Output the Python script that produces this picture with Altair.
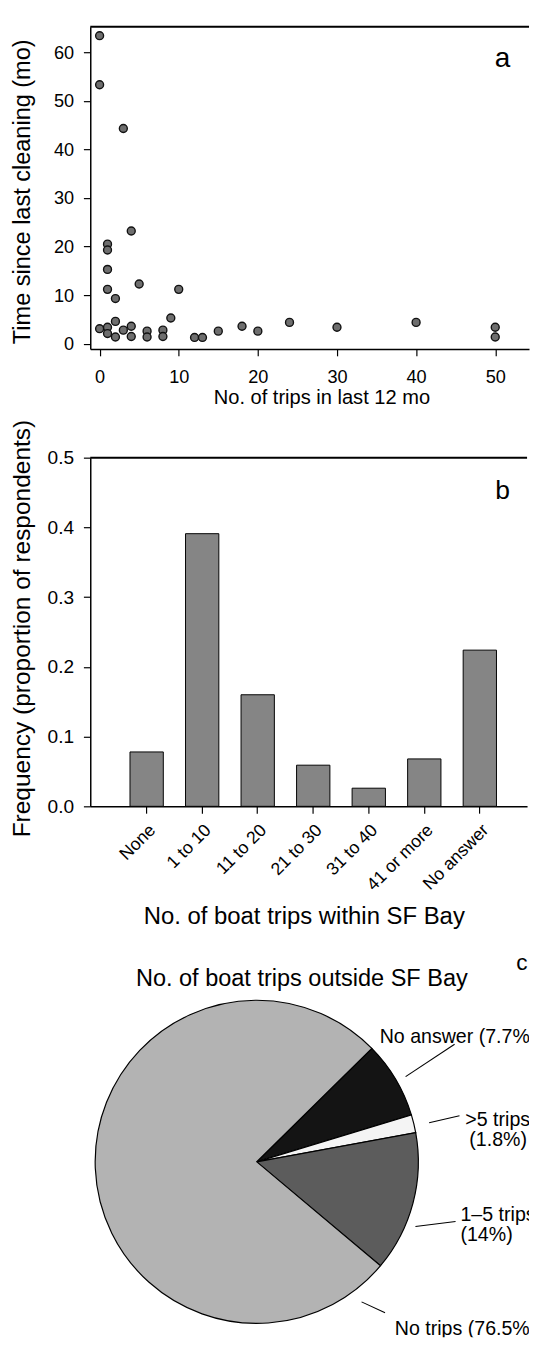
import math
import altair as alt
import pandas as pd

FONT = "Liberation Sans"

# ---------------- panel a : scatter ----------------
trips_12mo = [0, 0, 3, 4, 1, 1, 1, 1, 2, 5, 10, 9, 2, 4, 18, 0, 1, 1, 2, 3, 4, 6, 6,
              8, 8, 12, 13, 15, 20, 24, 30, 40, 50, 50]
months_since_cleaning = [63.4, 53.3, 44.3, 23.2, 20.5, 19.3, 15.3, 11.2, 9.3, 12.3, 11.2,
                         5.3, 4.6, 3.6, 3.6, 3.1, 3.4, 2.1, 1.4, 2.8, 1.5, 2.6, 1.4, 2.8,
                         1.5, 1.3, 1.3, 2.6, 2.6, 4.4, 3.4, 4.4, 3.4, 1.4]
x_ticks_a = [0, 10, 20, 30, 40, 50]
y_ticks_a = [0, 10, 20, 30, 40, 50, 60]

# ---------------- panel b : bars ----------------
trip_bins = ["None", "1 to 10", "11 to 20", "21 to 30", "31 to 40", "41 or more", "No answer"]
bin_freq = [0.078, 0.391, 0.160, 0.059, 0.026, 0.068, 0.224]
y_ticks_b = [0.0, 0.1, 0.2, 0.3, 0.4, 0.5]

# ---------------- panel c : pie ----------------
outside_labels = ["No answer", ">5 trips", "1\u20135 trips", "No trips"]
outside_pct = [7.7, 1.8, 14.0, 76.5]
outside_colors = ["#141414", "#f4f4f4", "#5c5c5c", "#b3b3b3"]

one = pd.DataFrame({"k": [0]})


def spacer(left, top, bottom):
    return alt.Chart(one).mark_rule(strokeOpacity=0, opacity=0).encode(
        x=alt.value(-left), y=alt.value(top), y2=alt.value(bottom))


def top_border(w):
    return alt.Chart(one).mark_rule(color="black", strokeWidth=2).encode(
        x=alt.value(0), x2=alt.value(w), y=alt.value(0))


def txt(s, x, y, size, align="left"):
    return alt.Chart(one).mark_text(
        font=FONT, fontSize=size, align=align, baseline="alphabetic",
        color="black", clip=True).encode(
        x=alt.value(x), y=alt.value(y), text=alt.value(s))


def leader(x1, y1, x2, y2):
    return alt.Chart(one).mark_rule(color="black", strokeWidth=1.1).encode(
        x=alt.value(x1), y=alt.value(y1), x2=alt.value(x2), y2=alt.value(y2))


# ---- panel a  (plot: x 90..538, y 13..342)
W_A, H_A, L_A = 448, 329, 82
df_a = pd.DataFrame({"trips": trips_12mo, "months": months_since_cleaning})
pts = alt.Chart(df_a).mark_circle(
    size=66, color="#6e6e6e", opacity=1, stroke="#111111", strokeWidth=1.4
).encode(
    x=alt.X("trips:Q",
            scale=alt.Scale(domain=[-1.18, 54.27], nice=False, zero=False),
            axis=alt.Axis(values=x_ticks_a, title="No. of trips in last 12 mo",
                          labelPadding=12, labelFontSize=18.5, titleFontSize=20.5,
                          titleX=236, titleY=56, titleBaseline="alphabetic",
                          titleAlign="center")),
    y=alt.Y("months:Q",
            scale=alt.Scale(domain=[-1.07, 65.24], nice=False, zero=False),
            axis=alt.Axis(values=y_ticks_a, title="Time since last cleaning (mo)",
                          labelPadding=10, labelFontSize=18.5, titleFontSize=24,
                          titleAngle=-90, titleX=-57, titleY=168,
                          titleBaseline="bottom", titleAlign="center")),
)
panel_a = alt.layer(
    spacer(L_A, -5, 392), top_border(W_A), pts, txt("a", 421, 41, 28.5, "center")
).properties(width=W_A, height=H_A)

# ---- panel b  (plot: x 92..538, y 453..809)
W_B, H_B, L_B = 446, 356, 84
df_b = pd.DataFrame({"bin": trip_bins, "freq": bin_freq})
bars = alt.Chart(df_b).mark_bar(color="#858585", stroke="black", strokeWidth=1).encode(
    x=alt.X("bin:N", sort=trip_bins,
            scale=alt.Scale(paddingInner=0.4, paddingOuter=0.633, align=0.565),
            axis=alt.Axis(title="No. of boat trips within SF Bay", labelAngle=-45,
                          labelAlign="right", labelBaseline="top", labelFontSize=18,
                          labelPadding=8, titleFontSize=24.4,
                          titleX=218, titleY=120, titleBaseline="alphabetic",
                          titleAlign="center")),
    y=alt.Y("freq:Q", scale=alt.Scale(domain=[0, 0.5], nice=False),
            axis=alt.Axis(values=y_ticks_b, format=".1f",
                          title="Frequency (proportion of respondents)",
                          labelPadding=10, labelFontSize=19.5, titleFontSize=25,
                          titleAngle=-90, titleX=-57, titleY=174,
                          titleBaseline="bottom", titleAlign="center")),
)
panel_b = alt.layer(
    spacer(L_B, -48, 492), top_border(W_B), bars, txt("b", 421, 42, 27, "center")
).properties(width=W_B, height=H_B)

# ---- panel c  (plot: x 90..538, y 945..1351)
W_C, H_C, L_C = 448, 406, 82
start = math.radians(45.4)
df_c = pd.DataFrame({"label": outside_labels, "pct": outside_pct,
                     "idx": list(range(len(outside_labels)))})
pie = alt.Chart(df_c).mark_arc(radius=165, stroke="black", strokeWidth=1.2).encode(
    theta=alt.Theta("pct:Q", stack=True,
                    scale=alt.Scale(range=[start, start + 2 * math.pi])),
    color=alt.Color("label:N", scale=alt.Scale(domain=outside_labels,
                                                range=outside_colors), legend=None),
    order=alt.Order("idx:Q"),
    x=alt.value(170), y=alt.value(227),
)


def pct_text(i):
    return f"({outside_pct[i]:g}%)"


LBL = 20
panel_c = alt.layer(
    spacer(L_C, 0, H_C),
    pie,
    txt("No. of boat trips outside SF Bay", 216, 47, 24, "center"),
    txt("c", 435, 31, 23),
    txt(f"{outside_labels[0]} {pct_text(0)}", 295.5, 106, LBL),
    leader(322, 140, 372, 107),
    txt(outside_labels[1], 383, 190, LBL),
    txt(pct_text(1), 387, 211, LBL),
    leader(346, 187, 377, 180),
    txt(outside_labels[2], 378, 287, LBL),
    txt(pct_text(2), 378, 308, LBL),
    leader(332, 293, 373, 288),
    txt(f"{outside_labels[3]} {pct_text(3)}", 311, 404, LBL),
    leader(277, 370, 301, 381),
).properties(width=W_C, height=H_C)

chart = alt.vconcat(panel_a, panel_b, panel_c, spacing=0).properties(
    padding={"left": 0, "top": 0, "right": 0, "bottom": 0}
).configure_view(stroke=None).configure_axis(
    grid=False, domainColor="black", domainWidth=1.5, tickColor="black",
    tickWidth=1.2, tickSize=7, labelColor="black", titleColor="black",
    labelFont=FONT, titleFont=FONT, labelFontSize=18, titleFontWeight="normal",
)

chart.save("out.html", embed_options={"renderer": "svg", "actions": False})
